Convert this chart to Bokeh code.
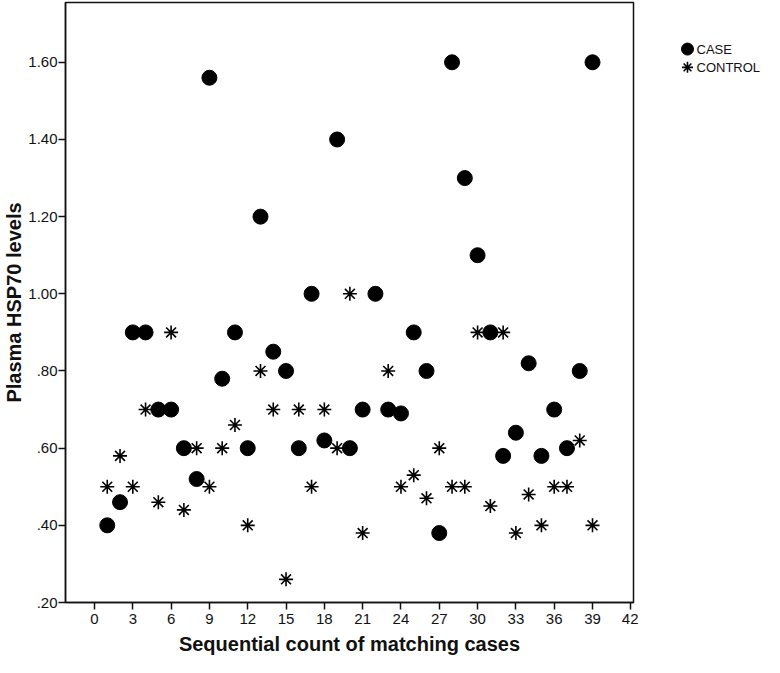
from bokeh.plotting import figure
from bokeh.layouts import row
from bokeh.models import Range1d, FixedTicker, CustomJSTickFormatter
from bokeh.embed import file_html
from bokeh.resources import INLINE

# ---- data ----
case_x = list(range(1, 40))
case_y = [0.40, 0.46, 0.90, 0.90, 0.70, 0.70, 0.60, 0.52, 1.56, 0.78,
          0.90, 0.60, 1.20, 0.85, 0.80, 0.60, 1.00, 0.62, 1.40, 0.60,
          0.70, 1.00, 0.70, 0.69, 0.90, 0.80, 0.38, 1.60, 1.30, 1.10,
          0.90, 0.58, 0.64, 0.82, 0.58, 0.70, 0.60, 0.80, 1.60]

control_x = [1, 2, 3, 4, 5, 6, 7, 8, 9, 10, 11, 12, 13, 14, 15, 16, 17, 18,
             19, 20, 21, 23, 24, 25, 26, 27, 28, 29, 30, 31, 32, 33, 34, 35,
             36, 37, 38, 39]
control_y = [0.50, 0.58, 0.50, 0.70, 0.46, 0.90, 0.44, 0.60, 0.50, 0.60,
             0.66, 0.40, 0.80, 0.70, 0.26, 0.70, 0.50, 0.70, 0.60, 1.00,
             0.38, 0.80, 0.50, 0.53, 0.47, 0.60, 0.50, 0.50, 0.90, 0.45,
             0.90, 0.38, 0.48, 0.40, 0.50, 0.50, 0.62, 0.40]

x_ticks = list(range(0, 43, 3))
y_ticks = [0.20, 0.40, 0.60, 0.80, 1.00, 1.20, 1.40, 1.60]

x_title = "Sequential count of matching cases"
y_title = "Plasma HSP70 levels"
series_names = ["CASE", "CONTROL"]
series_markers = ["circle", "asterisk"]

FONT = "Liberation Sans"
INK = "#111111"

p = figure(width=638, height=657, output_backend="svg", toolbar_location=None,
           x_range=Range1d(-2.27, 42.21), y_range=Range1d(0.20, 1.755),
           min_border_left=60, min_border_right=5, min_border_top=2,
           min_border_bottom=0)
p.background_fill_color = "white"
p.border_fill_color = "white"
p.outline_line_color = INK
p.outline_line_width = 1.5
p.grid.visible = False

for ax in (p.xaxis[0], p.yaxis[0]):
    ax.axis_line_color = INK
    ax.axis_line_width = 1.5
    ax.major_tick_line_color = INK
    ax.major_tick_line_width = 1.5
    ax.major_tick_out = 7
    ax.major_tick_in = 0
    ax.minor_tick_line_color = None
    ax.major_label_text_font = FONT
    ax.major_label_text_font_size = "15px"
    ax.major_label_text_color = INK
    ax.axis_label_text_font = FONT
    ax.axis_label_text_font_style = "bold"
    ax.axis_label_text_font_size = "20px"
    ax.axis_label_text_color = INK

p.xaxis.ticker = FixedTicker(ticks=x_ticks)
p.xaxis.major_label_standoff = 4
p.xaxis.axis_label = x_title
p.xaxis.axis_label_standoff = 6
p.yaxis.ticker = FixedTicker(ticks=y_ticks)
p.yaxis.major_label_standoff = 1
p.yaxis.axis_label = y_title
p.yaxis.axis_label_standoff = 0
p.yaxis.formatter = CustomJSTickFormatter(
    code="return tick.toFixed(2).replace(/^0\\./, '.');")

p.scatter(case_x, case_y, marker=series_markers[0], size=15,
          fill_color="black", line_color="black")
p.scatter(control_x, control_y, marker=series_markers[1], size=14,
          line_color="black", line_width=1.6)

# ---- legend panel (pixel-like coordinates, y downward) ----
lg = figure(width=126, height=657, output_backend="svg", toolbar_location=None,
            x_range=Range1d(0, 126), y_range=Range1d(657, 0),
            x_axis_type=None, y_axis_type=None, min_border=0)
lg.outline_line_color = None
lg.grid.visible = False
lg.background_fill_color = "white"
lg.border_fill_color = "white"
lg_rows = [51, 71]
lg.scatter([49], [lg_rows[0]], marker=series_markers[0], size=12,
           fill_color="black", line_color="black")
lg.scatter([49], [lg_rows[1]], marker=series_markers[1], size=11,
           line_color="black", line_width=1.6)
lg.text([58, 58], lg_rows, text=series_names, text_font_size="13px",
        text_baseline="middle", text_align="left", text_color=INK,
        text_font={"value": FONT})

layout = row(p, lg, spacing=0)
open("out.html", "w").write(file_html(layout, INLINE))
